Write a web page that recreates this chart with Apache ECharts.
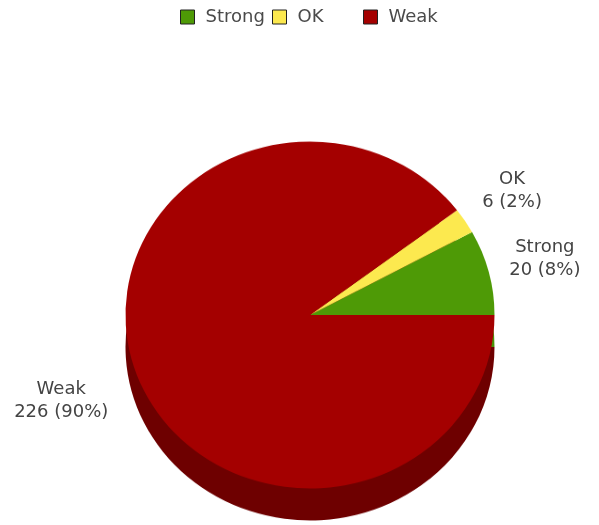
<!DOCTYPE html>
<html>
<head>
<meta charset="utf-8">
<script src="https://cdn.jsdelivr.net/npm/echarts@6/dist/echarts.min.js"></script>
<style>
html,body{margin:0;padding:0;background:#fff;}
#wrap{position:relative;width:599px;height:525px;overflow:hidden;}
#pie{position:absolute;left:0;top:0;width:599px;height:580px;transform:scaleY(0.94);transform-origin:310px 315px;}
#top{position:absolute;left:0;top:0;width:599px;height:525px;}
</style>
</head>
<body>
<div id="wrap"><div id="pie"></div><div id="top"></div></div>
<script>
const categories = ['Strong', 'OK', 'Weak'];
const values = [20, 6, 226];

const faceColors = ['#4e9a06', '#fce94f', '#a40000'];
const sideColors = ['#4a9205', '#c9b83c', '#6e0000'];
const FONT = 'DejaVu Sans';

function buildData(cols) {
  return categories.map((c, i) => ({ name: c, value: values[i], itemStyle: { color: cols[i] } }));
}

// Pie (faces + side), rendered in a vertically squashed layer to give the elliptical look
const pieChart = echarts.init(document.getElementById('pie'), null, { renderer: 'canvas' });
pieChart.setOption({
  animation: false,
  series: [
    {
      name: 'side', type: 'pie', z: 1,
      center: [310, 349], radius: 184.5,
      startAngle: 0, clockwise: false,
      label: { show: false }, labelLine: { show: false },
      itemStyle: { borderWidth: 0 },
      emphasis: { disabled: true },
      data: buildData(sideColors)
    },
    {
      name: 'face', type: 'pie', z: 2,
      center: [310, 315], radius: 184.5,
      startAngle: 0, clockwise: false,
      label: { show: false }, labelLine: { show: false },
      itemStyle: { borderWidth: 0 },
      emphasis: { disabled: true },
      data: buildData(faceColors)
    }
  ]
});

// Legend + labels layer
const CX = 310, CY = 315, LRX = 185, KW = 0.78, LRY = 229, DEPTH = 13;
const topChart = echarts.init(document.getElementById('top'), null, { renderer: 'canvas' });
const legendLefts = [180, 272, 363];
topChart.setOption({
  animation: false,
  backgroundColor: 'transparent',
  legend: categories.map((c, i) => ({
    left: legendLefts[i], top: 8, padding: 0,
    itemWidth: 14, itemHeight: 14, itemGap: 0,
    icon: 'rect', selectedMode: false,
    textStyle: { color: '#4a4a4a', fontSize: 18, fontFamily: FONT, padding: [0, 0, 0, 6] },
    data: [{ name: c, itemStyle: { color: faceColors[i], borderColor: '#222', borderWidth: 1 } }]
  })),
  series: [
    {
      name: 'labels', type: 'pie',
      center: [CX, CY], radius: [215, 245],
      startAngle: 0, clockwise: false,
      percentPrecision: 0,
      silent: true,
      itemStyle: { color: 'rgba(0,0,0,0)', borderWidth: 0 },
      label: {
        show: true, position: 'inside',
        formatter: '{b}\n{c} ({d}%)',
        color: '#444', fontSize: 18, lineHeight: 23, fontFamily: FONT, align: 'center'
      },
      labelLine: { show: false },
      labelLayout: function (p) {
        const r = p.labelRect;
        const mx = r.x + r.width / 2 - CX;
        const my = r.y + r.height / 2 - CY;
        const len = Math.sqrt(mx * mx + my * my) || 1;
        const cs = mx / len, sn = my / len;
        const x = CX + cs * LRX + Math.sign(cs) * r.width * KW;
        const y = CY + sn * LRY + (sn > 0 ? DEPTH : 0);
        return { x: x, y: y, align: 'center', verticalAlign: 'middle' };
      },
      data: categories.map((c, i) => ({ name: c, value: values[i] }))
    }
  ]
});
</script>
</body>
</html>
